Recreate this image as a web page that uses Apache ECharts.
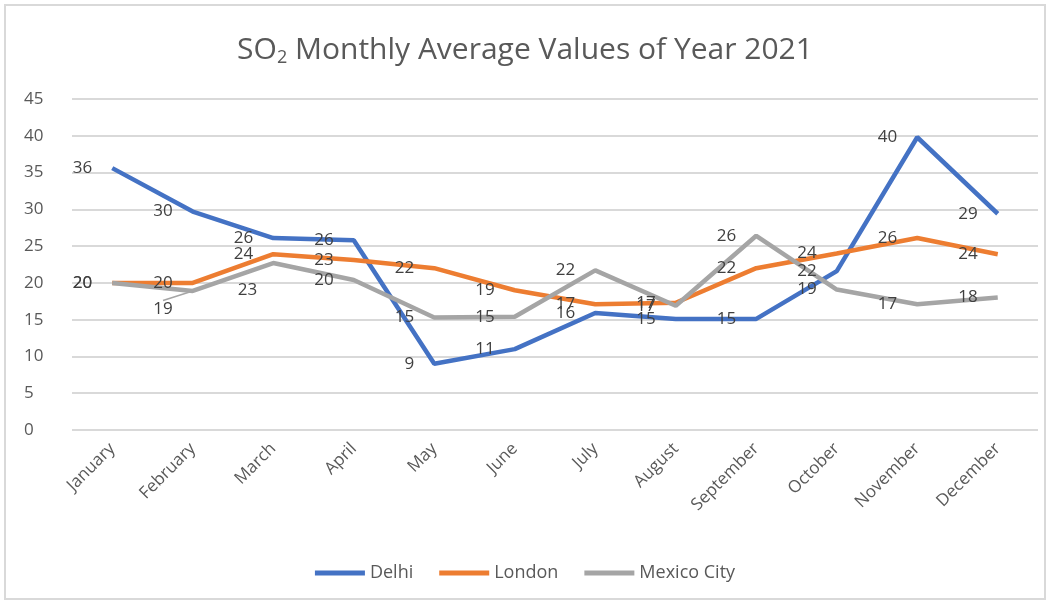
<!DOCTYPE html>
<html><head><meta charset="utf-8">
<script src="https://cdn.jsdelivr.net/npm/echarts@6/dist/echarts.min.js"></script>
<style>html,body{margin:0;padding:0;background:#fff}#c{width:1050px;height:604px}</style>
</head><body><div id="c"></div>
<script>
const months = ['January','February','March','April','May','June','July','August','September','October','November','December'];
const delhi = [35.6, 29.7, 26.1, 25.8, 9.0, 11.0, 15.9, 15.1, 15.1, 21.6, 39.8, 29.4];
const london = [20.0, 20.0, 23.9, 23.1, 22.0, 19.0, 17.1, 17.3, 22.0, 24.0, 26.1, 23.9];
const mexico = [20.0, 18.9, 22.7, 20.4, 15.3, 15.4, 21.7, 16.9, 26.4, 19.1, 17.1, 18.0];
const yTicks = [0, 5, 10, 15, 20, 25, 30, 35, 40, 45];

const FONT = '"Open Sans", sans-serif';
const chart = echarts.init(document.getElementById('c'));
function mk(name, data, color, moved) {
  moved = moved || {};
  const items = data.map((v, i) => moved[i] && moved[i].line
    ? { value: v, labelLine: { show: true, lineStyle: { color: '#a5a5a5', width: 1.5 } } }
    : v);
  return {
    name, type: 'line', data: items, symbol: 'circle', symbolSize: 0, showSymbol: true,
    lineStyle: { width: 4.5, color }, itemStyle: { color },
    label: { show: true, position: 'left', distance: 20, color: '#404040', fontSize: 17, fontFamily: FONT,
      formatter: p => Math.round(p.value) },
    labelLine: { show: false },
    labelLayout: p => (moved[p.dataIndex] ? { dx: moved[p.dataIndex].dx || 0, dy: moved[p.dataIndex].dy } : {})
  };
}
chart.setOption({
  animation: false,
  graphic: [{ type: 'rect', shape: { x: 5, y: 5, width: 1040, height: 594 }, style: { fill: 'none', stroke: '#d9d9d9', lineWidth: 2 } }],
  title: {
    text: '{a|SO}{s|2}{a| Monthly Average Values of Year 2021}', left: 'center', top: 29,
    textStyle: { rich: { a: { fontSize: 30, fontWeight: 'normal', color: '#595959', fontFamily: FONT }, s: { fontSize: 18, fontWeight: 'normal', color: '#595959', fontFamily: FONT, verticalAlign: 'bottom', padding: [15, 0, 0, 0] } } }
  },
  legend: {
    bottom: 17, left: 'center', itemWidth: 50, itemHeight: 5, itemGap: 26, icon: 'rect',
    textStyle: { color: '#595959', fontSize: 18, fontFamily: FONT },
    data: ['Delhi', 'London', 'Mexico City']
  },
  grid: { left: 72, right: 12, top: 99, bottom: 174 },
  xAxis: {
    type: 'category', data: months, boundaryGap: true,
    axisLine: { show: false }, axisTick: { show: false },
    axisLabel: { rotate: 45, color: '#595959', fontSize: 17, fontFamily: FONT, margin: 16 }
  },
  yAxis: {
    type: 'value', min: 0, max: 45, interval: 5,
    axisLabel: { color: '#595959', fontSize: 17, fontFamily: FONT, margin: 48, align: 'left',
      formatter: v => yTicks.includes(v) ? String(v) : '' },
    splitLine: { lineStyle: { color: '#d9d9d9', width: 2 } }
  },
  series: [
    mk('Delhi', delhi, '#4472C4'),
    mk('London', london, '#ED7D31'),
    mk('Mexico City', mexico, '#A5A5A5', { 1: { dy: 18, line: true }, 2: { dx: 4, dy: 27 } })
  ]
});
</script></body></html>
